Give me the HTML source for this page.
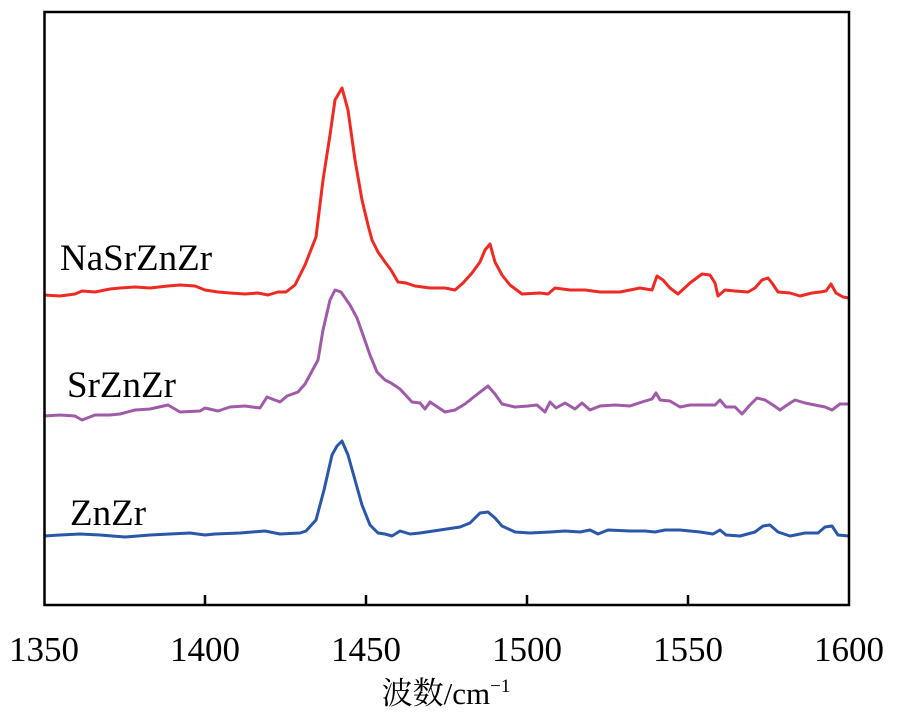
<!DOCTYPE html>
<html><head><meta charset="utf-8"><style>html,body{margin:0;padding:0;background:#fff}
svg text{font-family:"Liberation Serif","Times New Roman","DejaVu Serif","Noto Serif CJK SC",serif !important}</style></head><body>
<svg width="898" height="720" xmlns="http://www.w3.org/2000/svg" style="display:block">
<g fill="none" stroke-width="3" stroke-linejoin="round">
<polyline stroke="#ee2a24" points="44,295 60,296 75,294 82,291 95,292 110,289 120,288 135,287 150,288 168,286 180,285 195,286 205,290 218,292 230,293 245,294 258,293 268,295 278,292 286,292 295,285 305,265 316,237 323,180 330,135 335,100 342,88 348,110 355,160 362,200 368,225 372,240 378,252 385,262 391,270 398,282 406,283 415,286 430,288 445,288 455,290 463,283 472,273 480,262 485,250 490,244 495,262 502,275 510,285 522,294 540,293 548,294 555,288 570,290 585,290 600,292 620,292 640,288 652,290 657,276 663,280 670,288 678,294 690,283 702,274 710,275 715,283 718,296 725,290 735,291 748,292 755,288 762,280 768,278 772,283 778,292 790,293 800,296 812,293 820,292 826,291 831,284 836,293 843,297 849,298"/>
<polyline stroke="#a05ba8" points="44,416 60,415 75,416 82,420 95,415 110,415 120,414 135,410 150,409 168,405 180,412 200,411 205,408 218,411 230,407 245,406 260,408 267,397 280,402 287,396 298,392 305,384 318,360 323,330 330,300 335,290 341,292 350,305 357,318 363,335 370,355 377,372 385,380 391,383 400,389 412,402 420,403 425,409 430,402 445,412 455,410 465,404 475,396 488,386 495,394 502,404 515,407 528,406 537,405 545,412 550,402 556,408 565,403 575,409 582,403 590,410 600,406 615,405 630,406 642,402 652,399 656,393 660,400 670,401 680,407 690,405 708,405 715,405 720,400 726,407 735,407 742,414 750,405 757,398 765,400 773,405 780,410 787,405 795,400 805,403 815,405 825,407 832,410 840,404 849,404"/>
<polyline stroke="#2a57a8" points="44,536 60,535 80,534 100,535 125,537 150,535 190,533 205,535 215,534 240,533 265,531 280,534 300,533 306,531 316,520 324,490 332,455 337,446 342,441 348,455 355,480 362,505 370,525 378,533 385,534 392,536 400,531 410,534 420,533 440,530 460,527 470,523 480,513 488,512 495,518 502,526 515,532 530,533 550,532 565,531 580,532 590,530 598,534 608,530 630,531 645,531 655,532 665,530 680,530 700,532 713,534 720,530 726,535 740,536 755,532 763,526 770,525 778,532 790,536 805,533 818,533 825,527 832,526 838,535 849,536"/>
</g>
<rect x="44.5" y="12" width="804.5" height="593" fill="none" stroke="#000" stroke-width="2.5"/>
<g stroke="#000" stroke-width="2.5">
<line x1="205" y1="605" x2="205" y2="595"/><line x1="366" y1="605" x2="366" y2="595"/><line x1="527" y1="605" x2="527" y2="595"/><line x1="688" y1="605" x2="688" y2="595"/>
</g>
<g font-size="35" fill="#000" text-anchor="middle">
<text x="44" y="661">1350</text><text x="205" y="661">1400</text><text x="366" y="661">1450</text><text x="527" y="661">1500</text><text x="688" y="661">1550</text><text x="849" y="661">1600</text>
</g>
<g font-size="37" fill="#000">
<text x="60" y="270">NaSrZnZr</text><text x="67" y="397">SrZnZr</text><text x="70" y="525">ZnZr</text>
</g>
<text x="446" y="704" text-anchor="middle" font-size="31" fill="#000">波数/cm<tspan font-size="19" dy="-12">−1</tspan></text>
</svg>
</body></html>
